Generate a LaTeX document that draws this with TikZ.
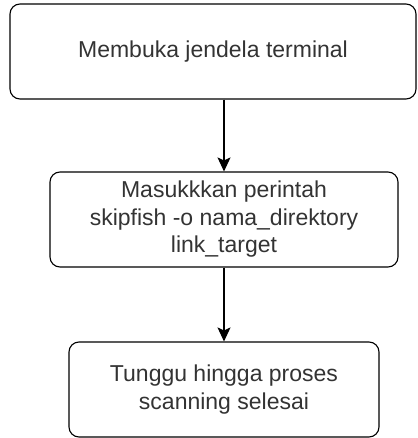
\documentclass[tikz,border=0pt]{standalone}
\usepackage{fontspec}
\setmainfont{Liberation Sans}
\usetikzlibrary{arrows.meta}
\begin{document}
\begin{tikzpicture}[x=1pt,y=-1pt,
  stepbox/.style={draw=black,line width=1.1pt,rounded corners=10pt,align=center,font=\fontsize{23}{27.5}\selectfont,text=black!80,inner sep=0pt},
  conn/.style={draw=black,line width=1.1pt,-{Stealth[length=14pt,width=13pt,inset=3pt]}}]
\useasboundingbox (0,0) rectangle (417,438);
\node[stepbox,minimum width=406pt,minimum height=95pt] (a) at (213,51.5) {Membuka jendela terminal};
\node[stepbox,minimum width=348pt,minimum height=95pt] (b) at (224,219.5) {Masukkkan perintah\\skipfish -o nama\_direktory\\link\_target};
\node[stepbox,minimum width=310pt,minimum height=95pt] (c) at (224,389.5) {Tunggu hingga proses\\scanning selesai};
\draw[conn] (a.south -| b.north) -- (b.north);
\draw[conn] (b.south) -- (c.north);
\end{tikzpicture}
\end{document}
